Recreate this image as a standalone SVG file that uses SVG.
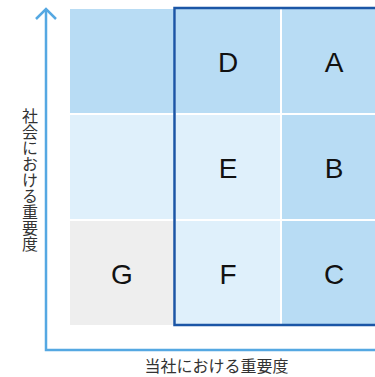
<svg xmlns="http://www.w3.org/2000/svg" width="375" height="377" viewBox="0 0 375 377">
<style>
.dark{fill:#b8dcf4}
.light{fill:#dff0fb}
.grey{fill:#eeeeee}
.lbl{font-family:"Liberation Sans",Arial,sans-serif;font-size:28px;fill:#111;text-anchor:middle}
.ax{font-family:"Noto Sans CJK JP","Noto Sans",sans-serif;font-size:16px;fill:#333;text-anchor:middle}
.axis{fill:none;stroke:#55a8e2;stroke-width:2.5}
</style>
<rect width="375" height="377" fill="#fff"/>
<g id="cells">
<g id="cell-empty"><rect class="dark" x="70" y="9" width="104" height="104"/></g>
<g id="D"><rect class="dark" x="176" y="9" width="104" height="104"/><text class="lbl" x="228" y="72">D</text></g>
<g id="A"><rect class="dark" x="282" y="9" width="104" height="104"/><text class="lbl" x="334" y="72">A</text></g>
<g id="cell-mid"><rect class="light" x="70" y="115" width="104" height="104"/></g>
<g id="E"><rect class="light" x="176" y="115" width="104" height="104"/><text class="lbl" x="228" y="178">E</text></g>
<g id="B"><rect class="dark" x="282" y="115" width="104" height="104"/><text class="lbl" x="334" y="178">B</text></g>
<g id="G"><rect class="grey" x="70" y="221" width="104" height="104"/><text class="lbl" x="122" y="284">G</text></g>
<g id="F"><rect class="light" x="176" y="221" width="104" height="104"/><text class="lbl" x="228" y="284">F</text></g>
<g id="C"><rect class="dark" x="282" y="221" width="104" height="104"/><text class="lbl" x="334" y="284">C</text></g>
</g>
<g id="frame"><rect x="174.5" y="8" width="260" height="317" fill="none" stroke="#1b56a6" stroke-width="2.5"/></g>
<g id="connectors">
<path class="axis" d="M46,9 V350 H400"/>
<polyline class="axis" points="36,19 46,9 56,19"/>
</g>
<g id="labels">
<text class="ax" x="30" y="179.5" style="writing-mode:vertical-rl">社会における重要度</text>
<text class="ax" x="216.5" y="372">当社における重要度</text>
</g>
</svg>
